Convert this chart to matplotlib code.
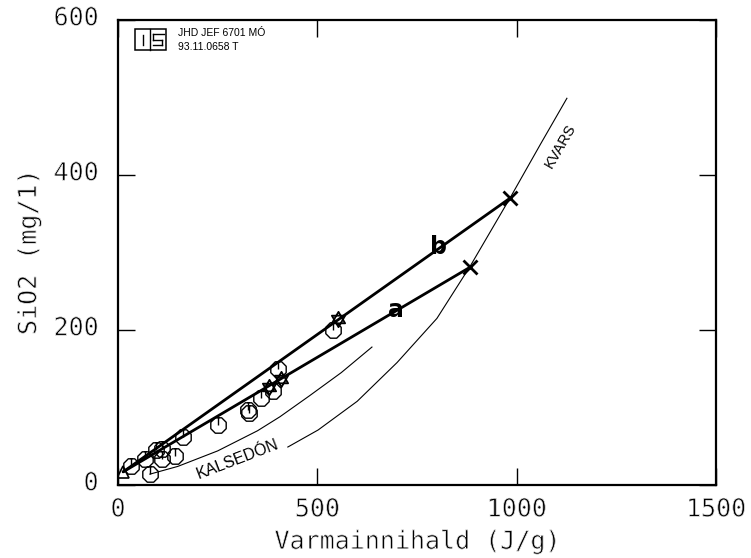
import numpy as np
import matplotlib
matplotlib.use("Agg")
import matplotlib.pyplot as plt
import matplotlib.patheffects as pe
import matplotlib.transforms as mtransforms
from matplotlib.path import Path
from matplotlib.patches import Rectangle
from matplotlib.lines import Line2D

# ---- data ----
circle_x = [32, 68, 80, 95, 110, 110, 143, 162, 251, 325, 328, 358, 389, 401, 539]
circle_y = [25, 33, 14, 45, 47, 33, 38, 62, 77, 97, 93, 112, 121, 150, 200]
star_x = [378, 408, 552]
star_y = [127, 137, 214]
tri_x = [13]
tri_y = [17]

line_a_x = [13, 883]
line_a_y = [17, 281]
line_b_x = [13, 983]
line_b_y = [17, 370]

kals_x = [80, 150, 250, 350, 406, 480, 560, 637]
kals_y = [14, 24, 44, 70, 88, 115, 145, 178]
kvars_x = [426, 502, 600, 700, 800, 883, 983, 1060, 1126]
kvars_y = [49, 71, 108, 158, 215, 282, 370, 440, 499]

x_ticks = [0, 500, 1000, 1500]
y_ticks = [0, 200, 400, 600]

# ---- markers ----
ang = np.deg2rad(22.5 + 45 * np.arange(8))
oct_v = list(zip(np.cos(ang), np.sin(ang)))
verts = oct_v + [oct_v[0], (0, 0), (0, 1)]
codes = [Path.MOVETO] + [Path.LINETO] * 7 + [Path.CLOSEPOLY, Path.MOVETO, Path.LINETO]
clock_marker = Path(verts, codes)

up = [(np.cos(np.deg2rad(a)), np.sin(np.deg2rad(a))) for a in (90, 210, 330)]
dn = [(np.cos(np.deg2rad(a)), np.sin(np.deg2rad(a))) for a in (270, 30, 150)]
sverts = up + [up[0]] + dn + [dn[0]]
scodes = [Path.MOVETO, Path.LINETO, Path.LINETO, Path.CLOSEPOLY] * 2
star_marker = Path(sverts, scodes)

W, H = 751, 558
fig = plt.figure(figsize=(W / 100, H / 100), dpi=100)
L, R, B, T = 118, 716, 485, 20
ax = fig.add_axes([L / W, 1 - B / H, (R - L) / W, (B - T) / H])

ax.set_xlim(0, 1500)
ax.set_ylim(0, 600)

# curves
ax.plot(kals_x, kals_y, color="black", lw=0.8)
ax.plot(kvars_x, kvars_y, color="black", lw=0.8)

# lines a, b
ax.plot(line_a_x, line_a_y, color="black", lw=2.0, solid_capstyle="round")
ax.plot(line_b_x, line_b_y, color="black", lw=2.0, solid_capstyle="round")
ax.plot([line_a_x[-1], line_b_x[-1]], [line_a_y[-1], line_b_y[-1]], ls="none",
        marker="x", ms=10, mew=2.0, color="black")

# markers
ax.plot(circle_x, circle_y, ls="none", marker=clock_marker, ms=12,
        mfc="none", mec="black", mew=1.0)
ax.plot(star_x, star_y, ls="none", marker=star_marker, ms=11,
        mfc="none", mec="black", mew=1.3)
ax.plot(tri_x, tri_y, ls="none", marker="^", ms=8,
        mfc="none", mec="black", mew=1.2)

# labels on curves
ax.text(805, 307, "b", fontsize=17, fontweight="bold", ha="center", va="center",
        family="DejaVu Sans Condensed")
ax.text(697, 226, "a", fontsize=17, fontweight="bold", ha="center", va="center",
        family="DejaVu Sans Condensed")
ax.text(1109, 437, "KVARS", fontsize=10.5, rotation=60, ha="center", va="center",
        family="Liberation Sans")
ax.text(300, 33, "KALSEDÓN", fontsize=11.5, rotation=21, ha="center", va="center",
        family="Liberation Sans")

# logo and ID text
tr = ax.transAxes
def px(x, y):
    return ((x - L) / (R - L), (B - y) / (B - T))
x0, y0 = px(135, 50)
x1, y1 = px(166, 29)
ax.add_patch(Rectangle((x0, y0), x1 - x0, y1 - y0, transform=tr, fill=False,
                       lw=1.1, ec="black"))
for seg in [((150, 29), (150, 50)), ((143, 35), (143, 45)),
            ((153, 34), (164, 34)), ((153, 34), (153, 40)), ((153, 40), (162, 40)),
            ((162, 40), (162, 45)), ((153, 45), (162, 45))]:
    (a1, b1), (a2, b2) = seg
    p1 = px(a1, b1)
    p2 = px(a2, b2)
    ax.add_line(Line2D([p1[0], p2[0]], [p1[1], p2[1]], transform=tr, color="black", lw=1.0))
tx, ty = px(178, 33)
ax.text(tx, ty, "JHD JEF 6701 MÓ", transform=tr, fontsize=7.5, va="center",
        family="Liberation Sans")
tx, ty = px(178, 47)
ax.text(tx, ty, "93.11.0658 T", transform=tr, fontsize=7.5, va="center",
        family="Liberation Sans")

# axes styling
for s in ax.spines.values():
    s.set_linewidth(1.6)
ax.set_xticks(x_ticks)
ax.set_yticks(y_ticks)
ax.set_xticklabels([str(v) for v in x_ticks])
ax.set_yticklabels([str(v) for v in y_ticks])
ax.tick_params(direction="in", length=12, width=1.0, top=True, right=True,
               labelsize=18, pad=9)
ax.tick_params(axis="y", pad=14)

thin = [pe.Normal(), pe.Stroke(linewidth=0.55, foreground="white")]
shift_up = mtransforms.ScaledTranslation(0, 3 / 72, fig.dpi_scale_trans)
for lab in ax.get_xticklabels() + ax.get_yticklabels():
    lab.set_family("DejaVu Sans Mono")
    lab.set_path_effects(thin)
for lab in ax.get_yticklabels():
    lab.set_transform(lab.get_transform() + shift_up)
ax.set_xlabel("Varmainnihald (J/g)", fontsize=18, family="DejaVu Sans Mono", labelpad=6)
ax.set_ylabel("SiO2 (mg/1)", fontsize=18, family="DejaVu Sans Mono", labelpad=9)
ax.xaxis.label.set_path_effects(thin)
ax.yaxis.label.set_path_effects(thin)

fig.savefig("out.png", dpi=100)
